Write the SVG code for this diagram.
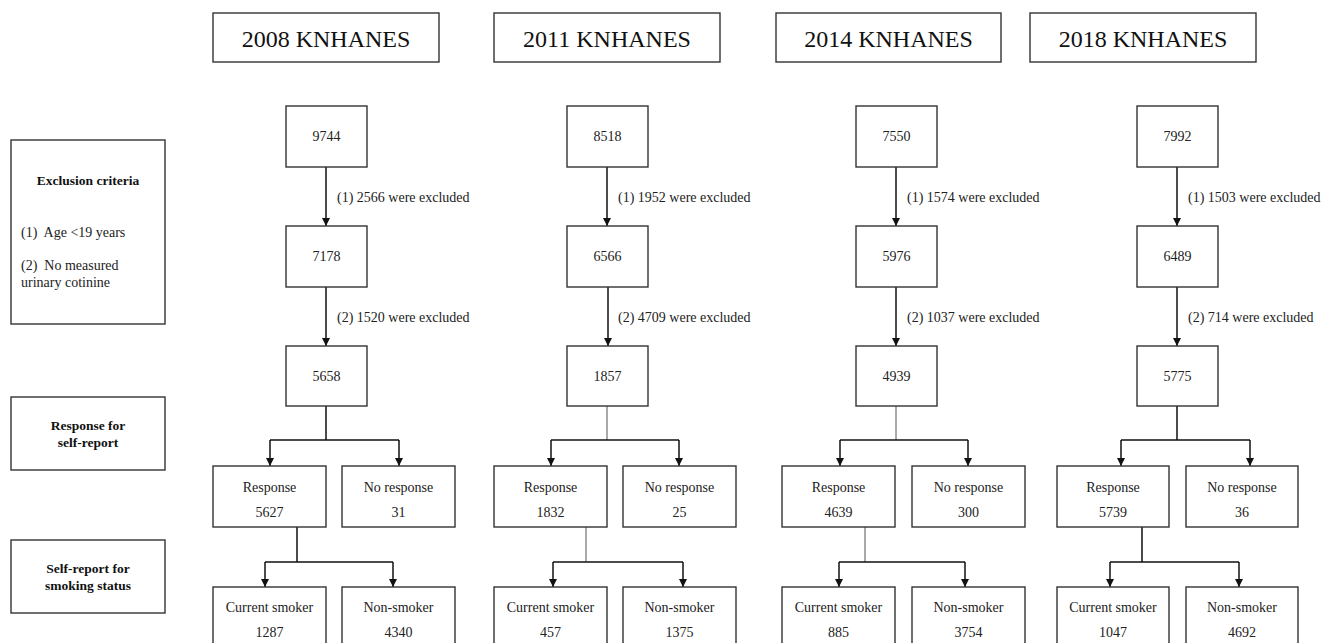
<svg xmlns="http://www.w3.org/2000/svg" width="1322" height="643" viewBox="0 0 1322 643">
<style>
.bx{fill:#fff;stroke:#333;stroke-width:1.4}
.t{font-family:"Liberation Serif",Tinos,"Times New Roman","Nimbus Roman","DejaVu Serif",serif;font-size:14px;fill:#222}
.c{text-anchor:middle}
.h{font-size:24px;fill:#111}
.b{font-weight:bold;font-size:13.5px;fill:#111}
.ln{fill:none;stroke:#111;stroke-width:1.5}
.thin{fill:none;stroke:#555;stroke-width:1}
</style>
<defs>
<marker id="ah" markerUnits="userSpaceOnUse" markerWidth="9" markerHeight="9" refX="8" refY="4" orient="auto">
<path d="M0,0 L8,4 L0,8 z" fill="#111"/>
</marker>
</defs>

<g id="legend">
<g id="excl"><rect class="bx" x="11" y="140" width="154" height="184"/>
<text class="t b c" x="88" y="185">Exclusion criteria</text>
<text class="t" x="21" y="237" xml:space="preserve">(1)  Age &lt;19 years</text>
<text class="t" x="21" y="270" xml:space="preserve">(2)  No measured</text>
<text class="t" x="21" y="287">urinary cotinine</text></g>
<g id="resp-legend"><rect class="bx" x="11" y="397" width="154" height="73"/>
<text class="t b c" x="88" y="430">Response for</text>
<text class="t b c" x="88" y="447">self-report</text></g>
<g id="smoke-legend"><rect class="bx" x="11" y="540" width="154" height="73"/>
<text class="t b c" x="88" y="573">Self-report for</text>
<text class="t b c" x="88" y="590">smoking status</text></g>
</g>

<g id="connectors">
<!-- col1 -->
<line class="ln" x1="326" y1="167" x2="326" y2="226" marker-end="url(#ah)"/>
<line class="ln" x1="326" y1="287" x2="326" y2="346" marker-end="url(#ah)"/>
<path class="ln" d="M326,406 V440 M270,440 H399"/>
<line class="ln" x1="270" y1="440" x2="270" y2="466" marker-end="url(#ah)"/>
<line class="ln" x1="399" y1="440" x2="399" y2="466" marker-end="url(#ah)"/>
<path class="ln" d="M297,527 V562 M265,562 H393"/>
<line class="ln" x1="265" y1="562" x2="265" y2="587" marker-end="url(#ah)"/>
<line class="ln" x1="393" y1="562" x2="393" y2="587" marker-end="url(#ah)"/>
<!-- col2 -->
<line class="ln" x1="607" y1="167" x2="607" y2="226" marker-end="url(#ah)"/>
<line class="ln" x1="608" y1="287" x2="608" y2="346" marker-end="url(#ah)"/>
<path class="thin" d="M607,406 V440"/>
<path class="ln" d="M551,440 H679"/>
<line class="ln" x1="551" y1="440" x2="551" y2="466" marker-end="url(#ah)"/>
<line class="ln" x1="679" y1="440" x2="679" y2="466" marker-end="url(#ah)"/>
<path class="thin" d="M586,527 V562"/>
<path class="ln" d="M553,562 H683"/>
<line class="ln" x1="553" y1="562" x2="553" y2="587" marker-end="url(#ah)"/>
<line class="ln" x1="683" y1="562" x2="683" y2="587" marker-end="url(#ah)"/>
<!-- col3 -->
<line class="ln" x1="896" y1="167" x2="896" y2="226" marker-end="url(#ah)"/>
<line class="ln" x1="896" y1="287" x2="896" y2="346" marker-end="url(#ah)"/>
<path class="thin" d="M896,406 V440"/>
<path class="ln" d="M840,440 H968"/>
<line class="ln" x1="840" y1="440" x2="840" y2="466" marker-end="url(#ah)"/>
<line class="ln" x1="968" y1="440" x2="968" y2="466" marker-end="url(#ah)"/>
<path class="thin" d="M865,527 V562"/>
<path class="ln" d="M839,562 H965"/>
<line class="ln" x1="839" y1="562" x2="839" y2="587" marker-end="url(#ah)"/>
<line class="ln" x1="965" y1="562" x2="965" y2="587" marker-end="url(#ah)"/>
<!-- col4 -->
<line class="ln" x1="1177" y1="167" x2="1177" y2="226" marker-end="url(#ah)"/>
<line class="ln" x1="1177" y1="287" x2="1177" y2="346" marker-end="url(#ah)"/>
<path class="ln" d="M1177,406 V440 M1121,440 H1250"/>
<line class="ln" x1="1121" y1="440" x2="1121" y2="466" marker-end="url(#ah)"/>
<line class="ln" x1="1250" y1="440" x2="1250" y2="466" marker-end="url(#ah)"/>
<path class="ln" d="M1142,527 V562 M1110,562 H1239"/>
<line class="ln" x1="1110" y1="562" x2="1110" y2="587" marker-end="url(#ah)"/>
<line class="ln" x1="1239" y1="562" x2="1239" y2="587" marker-end="url(#ah)"/>
<!-- labels -->
<text class="t" x="337" y="202">(1) 2566 were excluded</text>
<text class="t" x="337" y="322">(2) 1520 were excluded</text>
<text class="t" x="618" y="202">(1) 1952 were excluded</text>
<text class="t" x="618" y="322">(2) 4709 were excluded</text>
<text class="t" x="907" y="202">(1) 1574 were excluded</text>
<text class="t" x="907" y="322">(2) 1037 were excluded</text>
<text class="t" x="1188" y="202">(1) 1503 were excluded</text>
<text class="t" x="1188" y="322">(2) 714 were excluded</text>
</g>

<!-- column 1 -->
<g id="h2008"><rect class="bx" x="213" y="13" width="226" height="49"/><text class="t h c" x="326" y="47">2008 KNHANES</text></g>
<g id="n9744"><rect class="bx" x="286" y="106" width="81" height="61"/><text class="t c" x="326.5" y="141">9744</text></g>
<g id="n7178"><rect class="bx" x="286" y="226" width="81" height="61"/><text class="t c" x="326.5" y="261">7178</text></g>
<g id="n5658"><rect class="bx" x="286" y="346" width="81" height="60"/><text class="t c" x="326.5" y="381">5658</text></g>
<g id="r2008"><rect class="bx" x="213" y="466" width="113" height="61"/><text class="t c" x="269.5" y="492">Response</text><text class="t c" x="269.5" y="517">5627</text></g>
<g id="nr2008"><rect class="bx" x="342" y="466" width="113" height="61"/><text class="t c" x="398.5" y="492">No response</text><text class="t c" x="398.5" y="517">31</text></g>
<g id="cs2008"><rect class="bx" x="213" y="587" width="113" height="70"/><text class="t c" x="269.5" y="612">Current smoker</text><text class="t c" x="269.5" y="637">1287</text></g>
<g id="ns2008"><rect class="bx" x="342" y="587" width="113" height="70"/><text class="t c" x="398.5" y="612">Non-smoker</text><text class="t c" x="398.5" y="637">4340</text></g>

<!-- column 2 -->
<g id="h2011"><rect class="bx" x="494" y="13" width="226" height="49"/><text class="t h c" x="607" y="47">2011 KNHANES</text></g>
<g id="n8518"><rect class="bx" x="567" y="106" width="81" height="61"/><text class="t c" x="607.5" y="141">8518</text></g>
<g id="n6566"><rect class="bx" x="567" y="226" width="81" height="61"/><text class="t c" x="607.5" y="261">6566</text></g>
<g id="n1857"><rect class="bx" x="567" y="346" width="81" height="60"/><text class="t c" x="607.5" y="381">1857</text></g>
<g id="r2011"><rect class="bx" x="494" y="466" width="113" height="61"/><text class="t c" x="550.5" y="492">Response</text><text class="t c" x="550.5" y="517">1832</text></g>
<g id="nr2011"><rect class="bx" x="623" y="466" width="113" height="61"/><text class="t c" x="679.5" y="492">No response</text><text class="t c" x="679.5" y="517">25</text></g>
<g id="cs2011"><rect class="bx" x="494" y="587" width="113" height="70"/><text class="t c" x="550.5" y="612">Current smoker</text><text class="t c" x="550.5" y="637">457</text></g>
<g id="ns2011"><rect class="bx" x="623" y="587" width="113" height="70"/><text class="t c" x="679.5" y="612">Non-smoker</text><text class="t c" x="679.5" y="637">1375</text></g>

<!-- column 3 -->
<g id="h2014"><rect class="bx" x="776" y="13" width="225" height="49"/><text class="t h c" x="888.5" y="47">2014 KNHANES</text></g>
<g id="n7550"><rect class="bx" x="856" y="106" width="81" height="61"/><text class="t c" x="896.5" y="141">7550</text></g>
<g id="n5976"><rect class="bx" x="856" y="226" width="81" height="61"/><text class="t c" x="896.5" y="261">5976</text></g>
<g id="n4939"><rect class="bx" x="856" y="346" width="81" height="60"/><text class="t c" x="896.5" y="381">4939</text></g>
<g id="r2014"><rect class="bx" x="782" y="466" width="113" height="61"/><text class="t c" x="838.5" y="492">Response</text><text class="t c" x="838.5" y="517">4639</text></g>
<g id="nr2014"><rect class="bx" x="912" y="466" width="113" height="61"/><text class="t c" x="968.5" y="492">No response</text><text class="t c" x="968.5" y="517">300</text></g>
<g id="cs2014"><rect class="bx" x="782" y="587" width="113" height="70"/><text class="t c" x="838.5" y="612">Current smoker</text><text class="t c" x="838.5" y="637">885</text></g>
<g id="ns2014"><rect class="bx" x="912" y="587" width="113" height="70"/><text class="t c" x="968.5" y="612">Non-smoker</text><text class="t c" x="968.5" y="637">3754</text></g>

<!-- column 4 -->
<g id="h2018"><rect class="bx" x="1030" y="13" width="226" height="49"/><text class="t h c" x="1143" y="47">2018 KNHANES</text></g>
<g id="n7992"><rect class="bx" x="1137" y="106" width="81" height="61"/><text class="t c" x="1177.5" y="141">7992</text></g>
<g id="n6489"><rect class="bx" x="1137" y="226" width="81" height="61"/><text class="t c" x="1177.5" y="261">6489</text></g>
<g id="n5775"><rect class="bx" x="1137" y="346" width="81" height="60"/><text class="t c" x="1177.5" y="381">5775</text></g>
<g id="r2018"><rect class="bx" x="1057" y="466" width="112" height="61"/><text class="t c" x="1113" y="492">Response</text><text class="t c" x="1113" y="517">5739</text></g>
<g id="nr2018"><rect class="bx" x="1186" y="466" width="112" height="61"/><text class="t c" x="1242" y="492">No response</text><text class="t c" x="1242" y="517">36</text></g>
<g id="cs2018"><rect class="bx" x="1057" y="587" width="112" height="70"/><text class="t c" x="1113" y="612">Current smoker</text><text class="t c" x="1113" y="637">1047</text></g>
<g id="ns2018"><rect class="bx" x="1186" y="587" width="112" height="70"/><text class="t c" x="1242" y="612">Non-smoker</text><text class="t c" x="1242" y="637">4692</text></g>
</svg>
